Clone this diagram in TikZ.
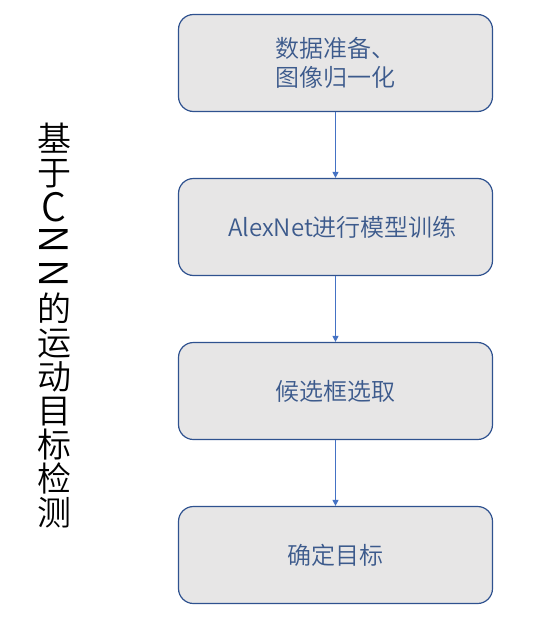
\documentclass[tikz,border=0pt]{standalone}
\usepackage{fontspec}
\setmainfont{Noto Sans CJK SC}[UprightFont = * DemiLight]
\usetikzlibrary{arrows.meta}
\definecolor{boxfill}{HTML}{E7E6E6}
\definecolor{boxline}{HTML}{2F528F}
\definecolor{boxtext}{HTML}{3C5A8C}
\definecolor{arrowc}{HTML}{4472C4}
\newcommand{\bigC}{\raisebox{-2pt}{\scalebox{1.15}{C}}}
\newcommand{\rotN}{\rotatebox[origin=c]{-90}{\scalebox{1.15}{N}}}
\begin{document}
\begin{tikzpicture}[x=1pt,y=-1pt,
  stepbox/.style={draw=boxline,fill=boxfill,line width=1.2pt,rounded corners=15pt,
    minimum width=314pt,minimum height=97pt,inner sep=0pt,text=boxtext,
    font=\fontsize{24pt}{29pt}\selectfont,align=left},
  flow/.style={draw=arrowc,line width=1pt,-{Triangle[width=6pt,length=6pt]}},
  title/.style={align=center,inner sep=0pt,font=\fontsize{34pt}{34pt}\selectfont}]
\useasboundingbox (0,0) rectangle (552,629);
\node[stepbox] (b1) at (335.5,63) {数据准备、\\图像归一化};
\node[stepbox] (b2) at (335.5,227) {};
\node[text=boxtext,font=\fontsize{24pt}{29pt}\selectfont,inner sep=0pt] (t2) at (342.5,227) {AlexNet进行模型训练};
\node[stepbox] (b3) at (335.5,391) {候选框选取};
\node[stepbox] (b4) at (335.5,555) {确定目标};
\draw[flow] (b1.south) -- (b2.north);
\draw[flow] (b2.south) -- (b3.north);
\draw[flow] (b3.south) -- (b4.north);
\node[title] (ttl) at (54,326) {基\\于\\\bigC\\\rotN\\\rotN\\的\\运\\动\\目\\标\\检\\测};
\end{tikzpicture}
\end{document}
